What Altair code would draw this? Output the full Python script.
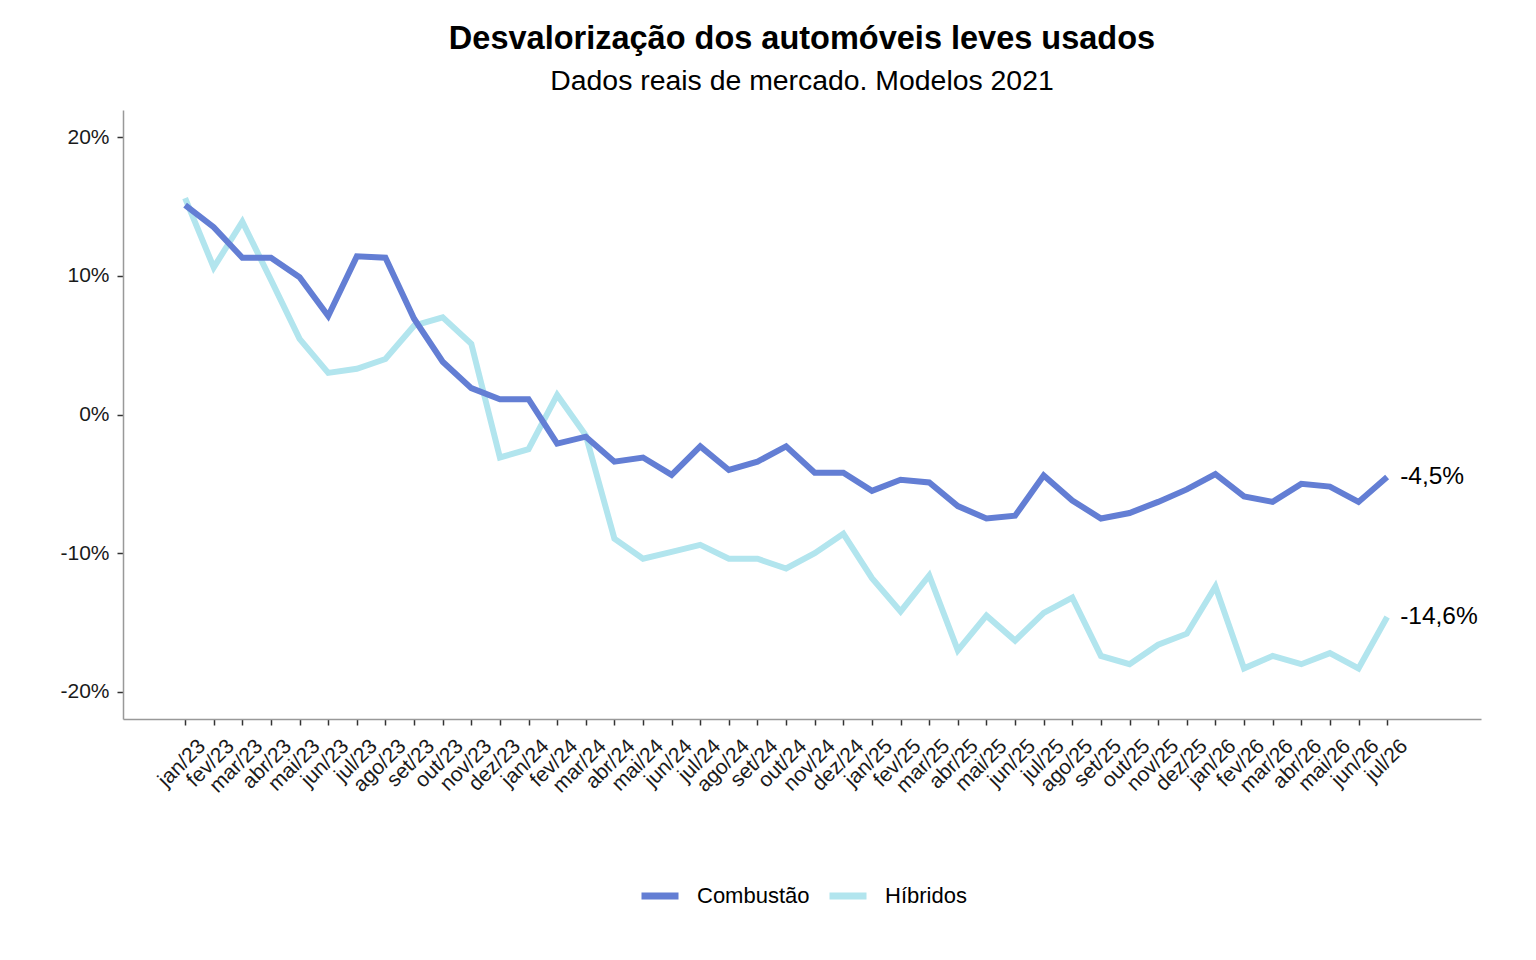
import altair as alt
import pandas as pd

months = ["jan/23","fev/23","mar/23","abr/23","mai/23","jun/23","jul/23","ago/23","set/23","out/23","nov/23","dez/23",
          "jan/24","fev/24","mar/24","abr/24","mai/24","jun/24","jul/24","ago/24","set/24","out/24","nov/24","dez/24",
          "jan/25","fev/25","mar/25","abr/25","mai/25","jun/25","jul/25","ago/25","set/25","out/25","nov/25","dez/25",
          "jan/26","fev/26","mar/26","abr/26","mai/26","jun/26","jul/26"]

combustao = [15.1, 13.5, 11.3, 11.3, 9.9, 7.1, 11.4, 11.3, 6.9, 3.8, 1.9, 1.1,
             1.1, -2.1, -1.6, -3.4, -3.1, -4.35, -2.3, -4.0, -3.4, -2.3, -4.2, -4.2,
             -5.5, -4.7, -4.9, -6.6, -7.5, -7.3, -4.4, -6.2, -7.5, -7.1, -6.3, -5.4,
             -4.3, -5.9, -6.3, -5.0, -5.2, -6.3, -4.5]

hibridos = [15.6, 10.6, 13.9, 9.7, 5.45, 3.0, 3.3, 4.0, 6.4, 7.0, 5.1, -3.1,
            -2.5, 1.4, -1.5, -8.95, -10.4, -9.9, -9.4, -10.4, -10.4, -11.1, -10.0, -8.6,
            -11.8, -14.2, -11.6, -17.0, -14.5, -16.3, -14.3, -13.2, -17.4, -18.0, -16.6, -15.8,
            -12.4, -18.3, -17.4, -18.0, -17.2, -18.3, -14.6]

series_names = ["Combustão", "Híbridos"]
series_colors = ["#637ED4", "#B2E5EE"]
end_labels = ["-4,5%", "-14,6%"]

rows = []
for i, m in enumerate(months):
    rows.append({"idx": i, "mes": m, "serie": series_names[0], "valor": combustao[i]})
    rows.append({"idx": i, "mes": m, "serie": series_names[1], "valor": hibridos[i]})
df = pd.DataFrame(rows)

last = len(months) - 1
df_end = pd.DataFrame({
    "idx": [last, last],
    "valor": [combustao[-1], hibridos[-1]],
    "rotulo": end_labels,
})

month_js = "[" + ",".join("'" + m + "'" for m in months) + "]"

x_enc = alt.X("idx:Q",
              scale=alt.Scale(domain=[-2.17, 45.28], nice=False, zero=False),
              axis=alt.Axis(values=list(range(len(months))), labelExpr=month_js + "[datum.value]",
                            labelAngle=-45, labelAlign="right", labelBaseline="top",
                            labelFontSize=21, labelPadding=10, labelOffset=9, title=None, grid=False,
                            labelOverlap=False, labelFlush=False))
y_enc = alt.Y("valor:Q",
              scale=alt.Scale(domain=[-21.95, 21.95], nice=False, zero=False),
              axis=alt.Axis(values=[-20, -10, 0, 10, 20], labelExpr="datum.value + '%'",
                            labelFontSize=21, labelPadding=8, title=None, grid=False))
color_enc = alt.Color("serie:N",
                      scale=alt.Scale(domain=series_names, range=series_colors),
                      legend=alt.Legend(title=None, orient="none", direction="horizontal",
                                        legendX=515, legendY=764,
                                        symbolType="stroke", symbolSize=1369, symbolStrokeWidth=7,
                                        labelFontSize=22, labelOffset=15, columnPadding=5))

base = alt.Chart(df)
line_h = base.transform_filter(alt.datum.serie == series_names[1]).mark_line(strokeWidth=6).encode(
    x=x_enc, y=y_enc, color=color_enc)
line_c = base.transform_filter(alt.datum.serie == series_names[0]).mark_line(strokeWidth=6).encode(
    x=x_enc, y=y_enc, color=color_enc)

labels = alt.Chart(df_end).mark_text(align="left", baseline="middle", dx=13, fontSize=24.5,
                                     color="#000000").encode(
    x=x_enc, y=y_enc, text="rotulo:N")

chart = alt.layer(line_h, line_c, labels).properties(
    width=1358, height=609,
    title=alt.TitleParams(text="Desvalorização dos automóveis leves usados",
                          subtitle="Dados reais de mercado. Modelos 2021",
                          anchor="middle", fontSize=32.5, fontWeight="bold", color="#000000",
                          subtitleFontSize=28.4, subtitleColor="#000000", subtitlePadding=12,
                          offset=15, font="Liberation Sans", subtitleFont="Liberation Sans"),
    autosize=alt.AutoSizeParams(type="none"),
    padding={"left": 115, "top": 102, "right": 40, "bottom": 220},
).configure_view(stroke=None).configure_axis(
    domainColor="#999999", domainWidth=1.5, tickColor="#333333", tickSize=6, tickWidth=1.5,
    labelColor="#1a1a1a", labelFont="Liberation Sans"
).configure_legend(labelFont="Liberation Sans", labelColor="#000000").configure_text(
    font="Liberation Sans")

chart.save("out.html", embed_options={"renderer": "svg", "actions": False})
